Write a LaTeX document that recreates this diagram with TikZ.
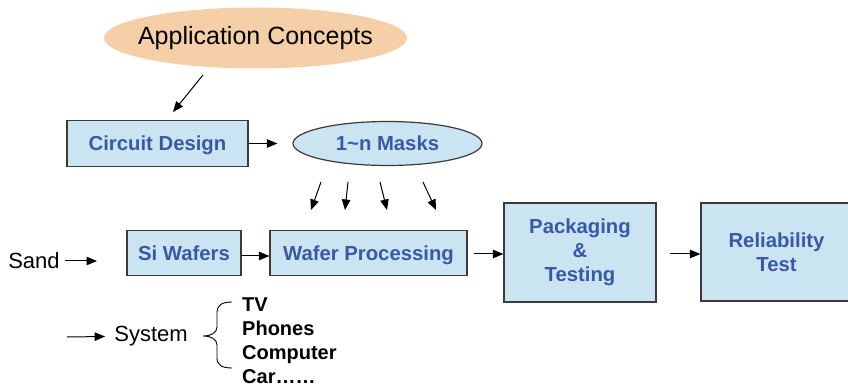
\documentclass[tikz,border=0pt]{standalone}
\usepackage{fontspec}
\setmainfont{Liberation Sans}
\usetikzlibrary{arrows.meta,shapes.geometric}
\definecolor{peach}{HTML}{F5CFA7}
\definecolor{paleblue}{HTML}{CAE5F1}
\definecolor{inkblue}{HTML}{3A58A8}
\definecolor{edgegray}{HTML}{3A3A3A}
\tikzset{
  stepbox/.style={draw=edgegray, line width=1.2pt, fill=paleblue, text=inkblue,
    font=\fontsize{20.3}{24}\selectfont\bfseries, align=center, inner sep=0pt},
  oneline/.style={text height=14.5pt, text depth=0pt},
  flow/.style={line width=1pt, -{Triangle[length=10.5pt,width=8.5pt]}},
  plain/.style={font=\fontsize{22}{26}\selectfont, inner sep=0pt}
}
\begin{document}
\begin{tikzpicture}[x=1pt, y=-1pt]
\useasboundingbox (0,0) rectangle (848,387);

% top concept and design stage
\node[fill=peach, ellipse, minimum width=303pt, minimum height=61pt,
  inner xsep=-14pt, inner ysep=0pt,
  font=\fontsize{25}{30}\selectfont] (app) at (255.5,38) {Application Concepts};
\node[stepbox, oneline, minimum width=181pt, minimum height=46pt] (cd) at (157.5,143.5) {Circuit Design};
\node[stepbox, oneline, ellipse, minimum width=189pt, minimum height=44pt] (masks) at (387.5,143.5) {1\textasciitilde n Masks};

% main process row
\node[stepbox, oneline, minimum width=114pt, minimum height=45pt] (si) at (184,253) {Si Wafers};
\node[stepbox, oneline, minimum width=197pt, minimum height=45pt] (wp) at (368.5,253) {Wafer Processing};
\node[stepbox, minimum width=152pt, minimum height=99pt] (pt) at (580,252.5) {Packaging\\\&\\Testing};
\node[stepbox, minimum width=151pt, minimum height=98pt] (rt) at (776.5,252) {Reliability\\Test};

\node[plain] (sand) at (34,261) {Sand};
\node[plain] (sys) at (151,336.5) {System};
\node[anchor=west, inner sep=0pt, align=left, font=\fontsize{20}{24}\selectfont\bfseries] (apps)
  at (242,340.5) {TV\\Phones\\Computer\\Car……};

% free ends of the arrows
\coordinate (a0) at (203,75);  \coordinate (a1) at (173,112);
\coordinate (s1) at (97,261);
\coordinate (y0) at (67,337);
\coordinate (m1s) at (321,182); \coordinate (m1e) at (311,210);
\coordinate (m2s) at (348,182); \coordinate (m2e) at (345,210);
\coordinate (m3s) at (380,182); \coordinate (m3e) at (387,210);
\coordinate (m4s) at (423,182); \coordinate (m4e) at (436,210);
\coordinate (w0) at (474,254); \coordinate (p0) at (670,254);

\draw[flow] (a0) -- (a1);
\draw[flow] (cd.east) -- ([xshift=-15pt]masks.west);
\draw[flow] (m1s) -- (m1e);
\draw[flow] (m2s) -- (m2e);
\draw[flow] (m3s) -- (m3e);
\draw[flow] (m4s) -- (m4e);
\draw[flow] ([xshift=5pt]sand.east) -- (s1);
\draw[flow] (si.east |- 0,256) -- (wp.west |- 0,256);
\draw[flow] (w0) -- (pt.west |- w0);
\draw[flow] (p0) -- (rt.west |- p0);
\draw[flow] (y0) -- ([xshift=-9pt]sys.west);

% brace gathering the end products
\draw[line width=0.9pt]
  (232,302) .. controls (222,302) and (217,305) .. (217,313) -- (217,327)
  .. controls (217,333) and (211,336) .. (203,336)
  .. controls (211,336) and (217,339) .. (217,345) -- (217,358)
  .. controls (217,365) and (222,368) .. (232,368);
\end{tikzpicture}
\end{document}
